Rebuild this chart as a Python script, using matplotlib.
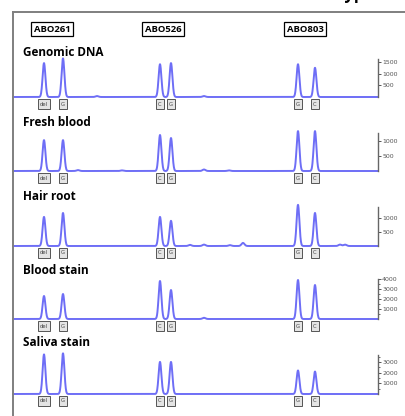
import numpy as np
import matplotlib.pyplot as plt
from matplotlib.lines import Line2D

W, H = 406, 416

# locus names and their label box positions (px)
loci = ["ABO261", "ABO526", "ABO803"]
locus_x = [52, 163, 305]

# peak positions (size scale, same as the trace x axis) and allele calls
peak_pos = [44, 63, 160, 171, 298, 315]
alleles = ["del", "G", "C", "G", "G", "C"]

samples = ["Genomic DNA", "Fresh blood", "Hair root", "Blood stain", "Saliva stain"]
genomic = [1450, 1650, 1400, 1450, 1400, 1250]
fresh = [1030, 1030, 1200, 1100, 1330, 1330]
hair = [1040, 1180, 1040, 900, 1470, 1180]
blood = [2300, 2500, 3800, 2900, 3900, 3400]
saliva = [3700, 3800, 3000, 3000, 2200, 2100]
heights = [genomic, fresh, hair, blood, saliva]

# small baseline artefacts (position, height)
bumps = [
    [(97, 40), (204, 40)],
    [(78, 30), (122, 20), (204, 50), (229, 20)],
    [(190, 40), (204, 50), (230, 30), (243, 110), (340, 50), (345, 50)],
    [(204, 120)],
    [],
]

axis_top = [1620, 1270, 1390, 4000, 3650]
major_ticks = [[500, 1000, 1500], [500, 1000], [500, 1000],
               [1000, 2000, 3000, 4000], [1000, 2000, 3000]]
minor_ticks = [[], [], [], [500, 1500, 2500, 3500], [500, 1500, 2500, 3500]]

# layout in pixels
baseline_px = [97, 171, 246, 319, 394]
px_per_unit = [0.0234, 0.030, 0.028, 0.0100, 0.0107]
title_px = [53, 123, 196, 270, 343]

x0, x1 = 13, 378


def fx(px):
    return px / W


def fy(py):
    return 1 - py / H


bold = dict(family=["Open Sans", "DejaVu Sans"], fontweight="bold")

fig = plt.figure(figsize=(W / 100, H / 100), dpi=100)

# frame lines of the cropped figure
fig.add_artist(Line2D([fx(13), fx(13)], [fy(12), fy(H)], color="#7f7f7f", lw=1.4))
fig.add_artist(Line2D([fx(13), fx(W)], [fy(12), fy(12)], color="#7f7f7f", lw=1.4))

# heading of the original figure, cut off at the top edge
fig.text(fx(294), fy(-1.2), "Genotypes", ha="left", va="baseline", fontsize=12, **bold)

for name, lx in zip(loci, locus_x):
    fig.text(fx(lx), fy(29), name, ha="center", va="center", fontsize=6.8,
             bbox=dict(boxstyle="square,pad=0.25", fc="white", ec="black", lw=0.9), **bold)

x = np.linspace(x0, x1, 2000)
sigma = 1.4

for i, name in enumerate(samples):
    top = axis_top[i]
    h_px = top * px_per_unit[i]
    ax = fig.add_axes([fx(x0), fy(baseline_px[i]), fx(x1) - fx(x0), h_px / H])
    y = np.zeros_like(x)
    for p, h in zip(peak_pos, heights[i]):
        y += h * np.exp(-0.5 * ((x - p) / sigma) ** 2)
    for p, h in bumps[i]:
        y += h * np.exp(-0.5 * ((x - p) / 1.5) ** 2)
    ax.plot(x, y, color="#6e6ef6", lw=1.4, clip_on=False, solid_joinstyle="round")
    ax.set_xlim(x0, x1)
    ax.set_ylim(0, top)
    for s in ["top", "left", "bottom"]:
        ax.spines[s].set_visible(False)
    ax.spines["right"].set_color("#666666")
    ax.spines["right"].set_linewidth(1.0)
    ax.yaxis.tick_right()
    ax.set_xticks([])
    ax.set_yticks(major_ticks[i])
    ax.set_yticks(minor_ticks[i], minor=True)
    ax.tick_params(axis="y", which="major", length=2.5, width=0.7, color="#555555",
                   labelsize=4.5, labelcolor="#555555", pad=0.5)
    ax.tick_params(axis="y", which="minor", length=1.5, width=0.6, color="#555555")
    ax.patch.set_visible(False)

    fig.text(fx(23), fy(title_px[i]), name, ha="left", va="center", fontsize=8.5, **bold)

    # allele call boxes under the peaks
    for p, a in zip(peak_pos, alleles):
        ax.annotate(a, xy=(p, 0), xytext=(0, -7), textcoords="offset pixels",
                    ha="center", va="center", fontsize=3.8, color="#444444",
                    annotation_clip=False,
                    bbox=dict(boxstyle="square,pad=0.4", fc="#e4e4e4", ec="#555555", lw=0.7))

fig.savefig("out.png", dpi=100)
